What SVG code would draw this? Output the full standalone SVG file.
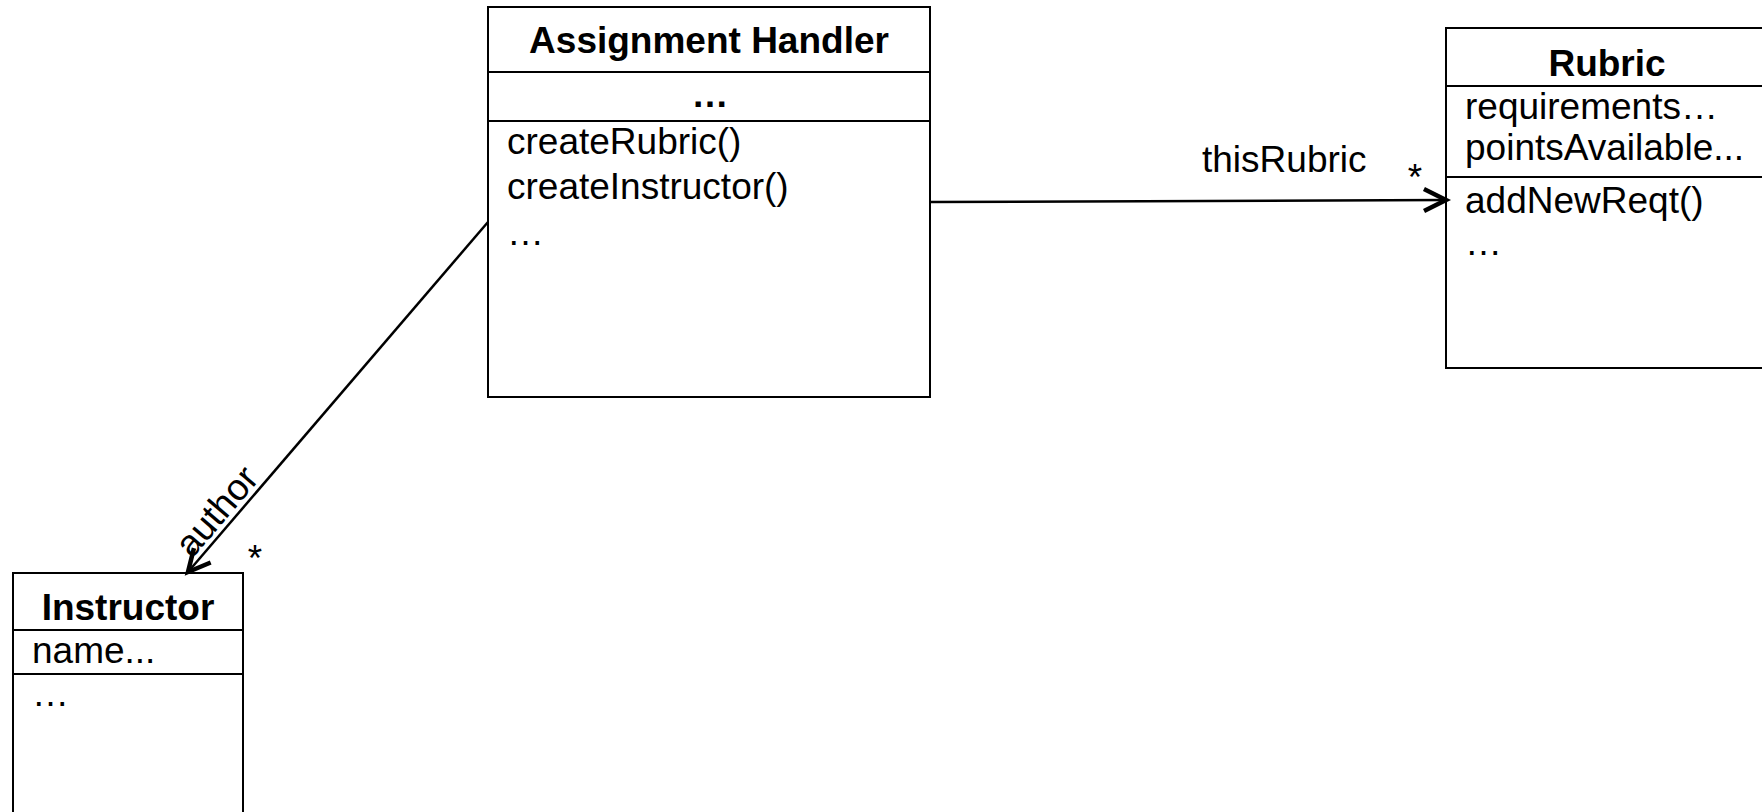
<svg xmlns="http://www.w3.org/2000/svg" width="1762" height="812" viewBox="0 0 1762 812">
  <defs>
    <style>
      .box { fill: #ffffff; stroke: #000000; stroke-width: 2; }
      .div { stroke: #000000; stroke-width: 2; }
      .t { font-family: "Liberation Sans", Arial, sans-serif; font-size: 37px; fill: #000000; }
      .b { font-weight: bold; text-anchor: middle; }
      .mid { text-anchor: middle; }
      .edge { fill: none; stroke: #000000; stroke-width: 2.5; }
    </style>
    <marker id="open" markerUnits="userSpaceOnUse" markerWidth="30" markerHeight="30" refX="24" refY="12" orient="auto" overflow="visible">
      <polyline points="2,1 24,12 2,23" fill="none" stroke="#000000" stroke-width="4.5" stroke-linejoin="miter"/>
    </marker>
  </defs>

  <rect width="1762" height="812" fill="#ffffff"/>

  <!-- Assignment Handler class -->
  <g id="assignment-handler">
    <rect class="box" x="488" y="7" width="442" height="390"/>
    <line class="div" x1="488" y1="72" x2="930" y2="72"/>
    <line class="div" x1="488" y1="121" x2="930" y2="121"/>
    <text class="t b" x="709" y="53">Assignment Handler</text>
    <text class="t b" x="710" y="107">…</text>
    <text class="t" x="507" y="154">createRubric()</text>
    <text class="t" x="507" y="199">createInstructor()</text>
    <text class="t" x="507" y="245">…</text>
  </g>

  <!-- Rubric class (runs past the right edge) -->
  <g id="rubric">
    <rect class="box" x="1446" y="28" width="330" height="340"/>
    <line class="div" x1="1446" y1="86" x2="1776" y2="86"/>
    <line class="div" x1="1446" y1="177" x2="1776" y2="177"/>
    <text class="t b" x="1607" y="76">Rubric</text>
    <text class="t" x="1465" y="119">requirements…</text>
    <text class="t" x="1465" y="160">pointsAvailable...</text>
    <text class="t" x="1465" y="213">addNewReqt()</text>
    <text class="t" x="1465" y="255">…</text>
  </g>

  <!-- Instructor class (runs past the bottom edge) -->
  <g id="instructor">
    <rect class="box" x="13" y="573" width="230" height="260"/>
    <line class="div" x1="13" y1="630" x2="243" y2="630"/>
    <line class="div" x1="13" y1="674" x2="243" y2="674"/>
    <text class="t b" x="128" y="620">Instructor</text>
    <text class="t" x="32" y="663">name...</text>
    <text class="t" x="32" y="706">…</text>
  </g>

  <!-- associations -->
  <g id="connectors">
    <line class="edge" x1="930" y1="202" x2="1446" y2="200" marker-end="url(#open)"/>
    <text class="t" x="1202" y="172">thisRubric</text>
    <text class="t mid" x="1415" y="190">*</text>

    <line class="edge" x1="488" y1="222" x2="188" y2="572" marker-end="url(#open)"/>
    <text class="t" transform="translate(192 559) rotate(-49.4)">author</text>
    <text class="t mid" x="255" y="571">*</text>
  </g>
</svg>
